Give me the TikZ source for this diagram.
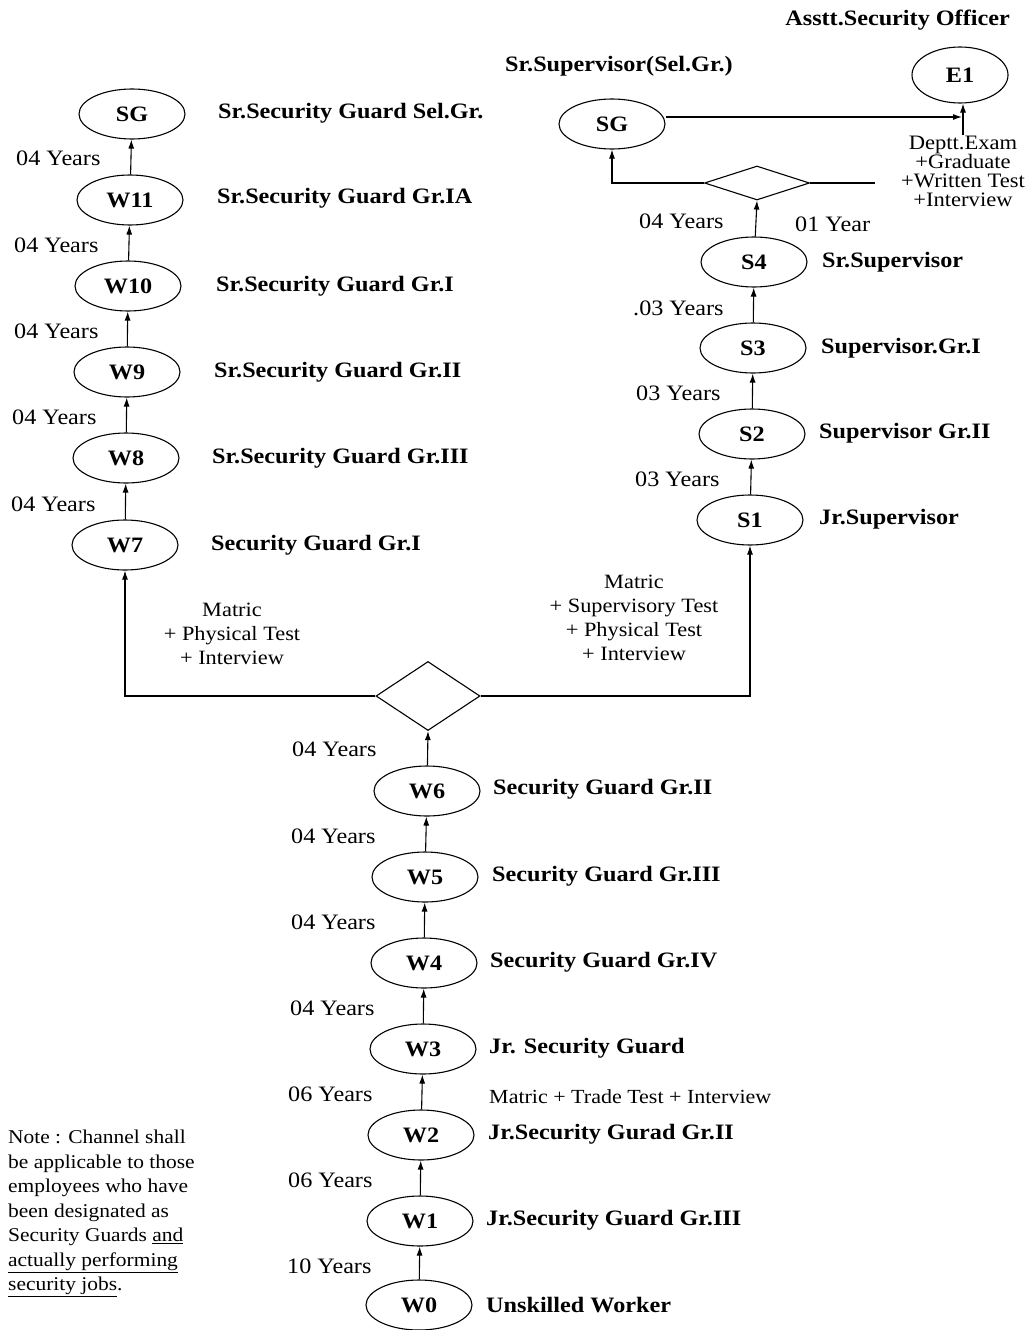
\documentclass[tikz,border=0pt]{standalone}
\usepackage{fontspec}
\setmainfont[FakeStretch=1.1]{Liberation Serif}
\usetikzlibrary{shapes.geometric,arrows.meta}
\begin{document}
\begin{tikzpicture}[x=1pt,y=-1pt,
  grade/.style={ellipse, draw, line width=1.1pt, minimum width=106pt, minimum height=50pt,
    inner sep=0pt, font=\bfseries\fontsize{22}{26}\selectfont},
  post/.style={anchor=west, inner sep=0pt, font=\bfseries\fontsize{22}{26}\selectfont},
  yrs/.style={anchor=west, inner sep=0pt, font=\fontsize{22}{26}\selectfont},
  cond/.style={align=center, inner sep=0pt, font=\fontsize{20.3}{24}\selectfont},
  gate/.style={diamond, draw, line width=1.1pt, inner sep=0pt},
  link/.style={line width=1.1pt},
  up/.style={link, -{Latex[length=9pt,width=6pt]}}]
\useasboundingbox (0,0) rectangle (1030,1330);

% ---- bottom chain: W0 .. W6
\node[grade] (W0) at (419,1305) {W0};
\node[grade] (W1) at (420,1221) {W1};
\node[grade] (W2) at (421,1135) {W2};
\node[grade] (W3) at (423,1049) {W3};
\node[grade] (W4) at (424,963) {W4};
\node[grade] (W5) at (425,877) {W5};
\node[grade] (W6) at (427,791) {W6};

\node[post] (pW0) at (486,1305) {Unskilled Worker};
\node[post] (pW1) at (486,1220) {Jr.Security Guard Gr.III};
\node[post] (pW2) at (488,1134) {Jr.Security Gurad Gr.II};
\node[post] (pW3) at (489,1048) {Jr. Security Guard};
\node[post] (pW4) at (490,962) {Security Guard Gr.IV};
\node[post] (pW5) at (492,876) {Security Guard Gr.III};
\node[post] (pW6) at (493,789) {Security Guard Gr.II};
\node[yrs, font=\fontsize{20}{24}\selectfont] (tt) at (489,1097) {Matric + Trade Test + Interview};

\node[yrs] (y01) at (287,1266) {10 Years};
\node[yrs] (y12) at (288,1180) {06 Years};
\node[yrs] (y23) at (288,1094) {06 Years};
\node[yrs] (y34) at (290,1008) {04 Years};
\node[yrs] (y45) at (291,922) {04 Years};
\node[yrs] (y56) at (291,836) {04 Years};
\node[yrs] (y6d) at (292,749) {04 Years};

\draw[up] (W0) -- (W1);
\draw[up] (W1) -- (W2);
\draw[up] (W2) -- (W3);
\draw[up] (W3) -- (W4);
\draw[up] (W4) -- (W5);
\draw[up] (W5) -- (W6);

% ---- branching point above W6
\node[gate, minimum width=104pt, minimum height=69pt] (dm) at (428,696) {};
\draw[up] (W6) -- (dm.south);

% ---- left chain: W7 .. SG
\node[grade] (W7) at (125,545) {W7};
\node[grade] (W8) at (126,458) {W8};
\node[grade] (W9) at (127,372) {W9};
\node[grade] (W10) at (128,286) {W10};
\node[grade] (W11) at (130,200) {W11};
\node[grade] (SGl) at (132,114) {SG};

\node[post] (pW7) at (211,545) {Security Guard Gr.I};
\node[post] (pW8) at (212,458) {Sr.Security Guard Gr.III};
\node[post] (pW9) at (214,372) {Sr.Security Guard Gr.II};
\node[post] (pW10) at (216,286) {Sr.Security Guard Gr.I};
\node[post] (pW11) at (217,198) {Sr.Security Guard Gr.IA};
\node[post] (pSGl) at (218,113) {Sr.Security Guard Sel.Gr.};

\node[yrs] (y78) at (11,504) {04 Years};
\node[yrs] (y89) at (12,417) {04 Years};
\node[yrs] (y910) at (14,331) {04 Years};
\node[yrs] (y1011) at (14,245) {04 Years};
\node[yrs] (y11s) at (16,158) {04 Years};

\draw[up] (W7) -- (W8);
\draw[up] (W8) -- (W9);
\draw[up] (W9) -- (W10);
\draw[up] (W10) -- (W11);
\draw[up] (W11) -- (SGl);

\draw[up] (dm.west) -| (W7.south);
\node[cond] (cl) at (232,634) {Matric\\+ Physical Test\\+ Interview};

% ---- right chain: S1 .. S4
\node[grade] (S1) at (750,520) {S1};
\node[grade] (S2) at (752,434) {S2};
\node[grade] (S3) at (753,348) {S3};
\node[grade] (S4) at (754,262) {S4};

\node[post] (pS1) at (819,519) {Jr.Supervisor};
\node[post] (pS2) at (819,433) {Supervisor Gr.II};
\node[post] (pS3) at (821,348) {Supervisor.Gr.I};
\node[post] (pS4) at (822,262) {Sr.Supervisor};

\node[yrs] (ys12) at (635,479) {03 Years};
\node[yrs] (ys23) at (636,393) {03 Years};
\node[yrs] (ys34) at (633,308) {.03 Years};
\node[yrs] (ys4a) at (639,221) {04 Years};
\node[yrs] (ys4b) at (795,224) {01 Year};

\draw[up] (S1) -- (S2);
\draw[up] (S2) -- (S3);
\draw[up] (S3) -- (S4);

\draw[up] (dm.east) -| (S1.south);
\node[cond] (cr) at (634,618) {Matric\\+ Supervisory Test\\+ Physical Test\\+ Interview};

% ---- top right: selection grade and officer
\node[gate, minimum width=105pt, minimum height=34pt] (dt) at (757,183) {};
\draw[up] (S4) -- (dt.south);

\node[grade] (SGr) at (612,124) {SG};
\node[post] (pSGr) at (505,66) {Sr.Supervisor(Sel.Gr.)};
\draw[up] (dt.west) -| (SGr.south);
\coordinate (dtend) at (875,183);
\draw[link] (dt.east) -- (dtend);

\node[grade, minimum width=96pt, minimum height=56pt] (E1) at (960,75) {E1};
\node[post, anchor=east] (pE1) at (1010,20) {Asstt.Security Officer};
\node[cond, font=\fontsize{20.5}{19}\selectfont] (cx) at (963,171) {Deptt.Exam\\+Graduate\\+Written Test\\+Interview};
\coordinate (jn) at (962,117);
\draw[up] (SGr.east |- jn) -- (jn);
\draw[up] (cx.north) -- (cx.north |- E1.south);

% ---- note
\node[anchor=north west, align=left, inner sep=0pt, font=\fontsize{19.5}{24.5}\selectfont] (note) at (8,1130)
  {Note : Channel shall\\be applicable to those\\employees who have\\been designated as\\Security Guards \underline{and}\\\underline{actually performing}\\\underline{security jobs}.};
\end{tikzpicture}
\end{document}
